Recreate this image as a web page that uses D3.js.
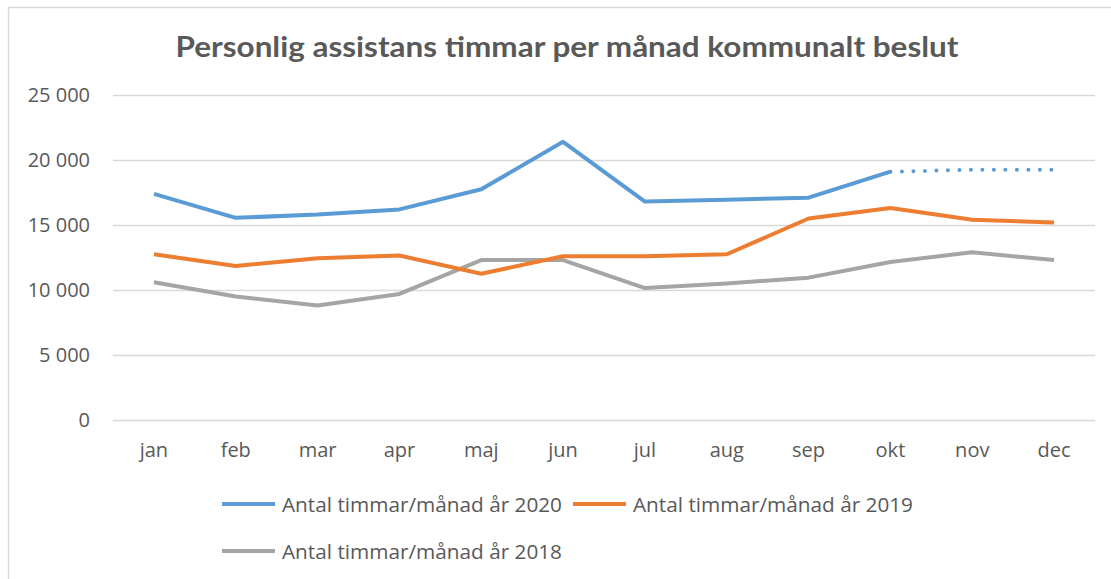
<!DOCTYPE html>
<html>
<head>
<meta charset="utf-8">
<script src="https://cdn.jsdelivr.net/npm/d3@7"></script>
<style>
  html, body { margin: 0; padding: 0; background: #fff; }
  svg { display: block; }
</style>
</head>
<body>
<div id="chart"></div>
<script>
const months = ['jan', 'feb', 'mar', 'apr', 'maj', 'jun', 'jul', 'aug', 'sep', 'okt', 'nov', 'dec']
const yTicks = [0, 5000, 10000, 15000, 20000, 25000]

const values2020 = [17400, 15550, 15800, 16200, 17750, 21400, 16800, 16950, 17100, 19100, null, null]
const forecast2020 = [null, null, null, null, null, null, null, null, null, 19100, 19250, 19250]
const values2019 = [12750, 11850, 12450, 12650, 11250, 12600, 12600, 12750, 15500, 16300, 15400, 15200]
const values2018 = [10600, 9500, 8800, 9700, 12300, 12300, 10150, 10500, 10950, 12150, 12900, 12300]

const title = 'Personlig assistans timmar per månad kommunalt beslut'

const series = [
  { name: 'Antal timmar/månad år 2020', values: values2020, color: '#5b9bd5' },
  { name: 'Antal timmar/månad år 2019', values: values2019, color: '#ed7d31' },
  { name: 'Antal timmar/månad år 2018', values: values2018, color: '#a5a5a5' }
]

const width = 1111
const height = 579
const margin = { top: 95, right: 16, bottom: 159, left: 113 }
const textColor = '#595959'
const bodyFont = "'Open Sans', sans-serif"

const svg = d3.select('#chart')
  .append('svg')
  .attr('width', width)
  .attr('height', height)

// chart frame (only left and top edges are in view)
svg.append('rect')
  .attr('x', 8.5)
  .attr('y', 7.5)
  .attr('width', width + 20)
  .attr('height', height + 20)
  .attr('fill', 'none')
  .attr('stroke', '#d9d9d9')
  .attr('stroke-width', 1.5)

svg.append('text')
  .attr('x', 567)
  .attr('y', 57)
  .attr('text-anchor', 'middle')
  .attr('font-family', "Lato, 'Open Sans', sans-serif")
  .attr('font-weight', 'bold')
  .attr('font-size', 29)
  .attr('textLength', 783)
  .attr('lengthAdjust', 'spacingAndGlyphs')
  .attr('fill', textColor)
  .text(title)

const x = d3.scaleBand()
  .domain(months)
  .range([margin.left, width - margin.right])

const y = d3.scaleLinear()
  .domain([0, 25000])
  .range([height - margin.bottom, margin.top])

// grid + y labels
const yAxis = svg.append('g')
  .attr('transform', `translate(${margin.left},0)`)
  .call(d3.axisLeft(y)
    .tickValues(yTicks)
    .tickSize(-(width - margin.left - margin.right))
    .tickPadding(23)
    .tickFormat(d => d3.format(',')(d).replace(/,/g, ' ')))

yAxis.select('.domain').remove()
yAxis.selectAll('line').attr('stroke', '#d9d9d9').attr('stroke-width', 1.3)
yAxis.selectAll('text')
  .attr('font-family', bodyFont)
  .attr('font-size', 20)
  .attr('fill', textColor)

// x labels
const xAxis = svg.append('g')
  .attr('transform', `translate(0,${height - margin.bottom})`)
  .call(d3.axisBottom(x).tickSize(0).tickPadding(23))

xAxis.select('.domain').remove()
xAxis.selectAll('text')
  .attr('font-family', bodyFont)
  .attr('font-size', 20)
  .attr('fill', textColor)

const line = d3.line()
  .defined(d => d != null)
  .x((d, i) => x(months[i]) + x.bandwidth() / 2)
  .y(d => y(d))

// draw 2018 first so 2020 sits on top
series.slice().reverse().forEach(s => {
  svg.append('path')
    .datum(s.values)
    .attr('fill', 'none')
    .attr('stroke', s.color)
    .attr('stroke-width', 4)
    .attr('stroke-linejoin', 'round')
    .attr('d', line)
})

// forecast part of 2020, dotted
svg.append('path')
  .datum(forecast2020)
  .attr('fill', 'none')
  .attr('stroke', '#5b9bd5')
  .attr('stroke-width', 4)
  .attr('stroke-linecap', 'round')
  .attr('stroke-dasharray', '0 11.5')
  .attr('d', line)

// legend
const legendPos = [[222, 504], [573, 504], [222, 551]]
series.forEach((s, i) => {
  const g = svg.append('g')
    .attr('transform', `translate(${legendPos[i][0]},${legendPos[i][1]})`)
  g.append('line')
    .attr('x1', 0)
    .attr('x2', 53)
    .attr('stroke', s.color)
    .attr('stroke-width', 4)
  g.append('text')
    .attr('x', 60)
    .attr('y', 7.5)
    .attr('font-family', bodyFont)
    .attr('font-size', 20)
    .attr('textLength', 280)
    .attr('lengthAdjust', 'spacingAndGlyphs')
    .attr('fill', textColor)
    .text(s.name)
})
</script>
</body>
</html>
